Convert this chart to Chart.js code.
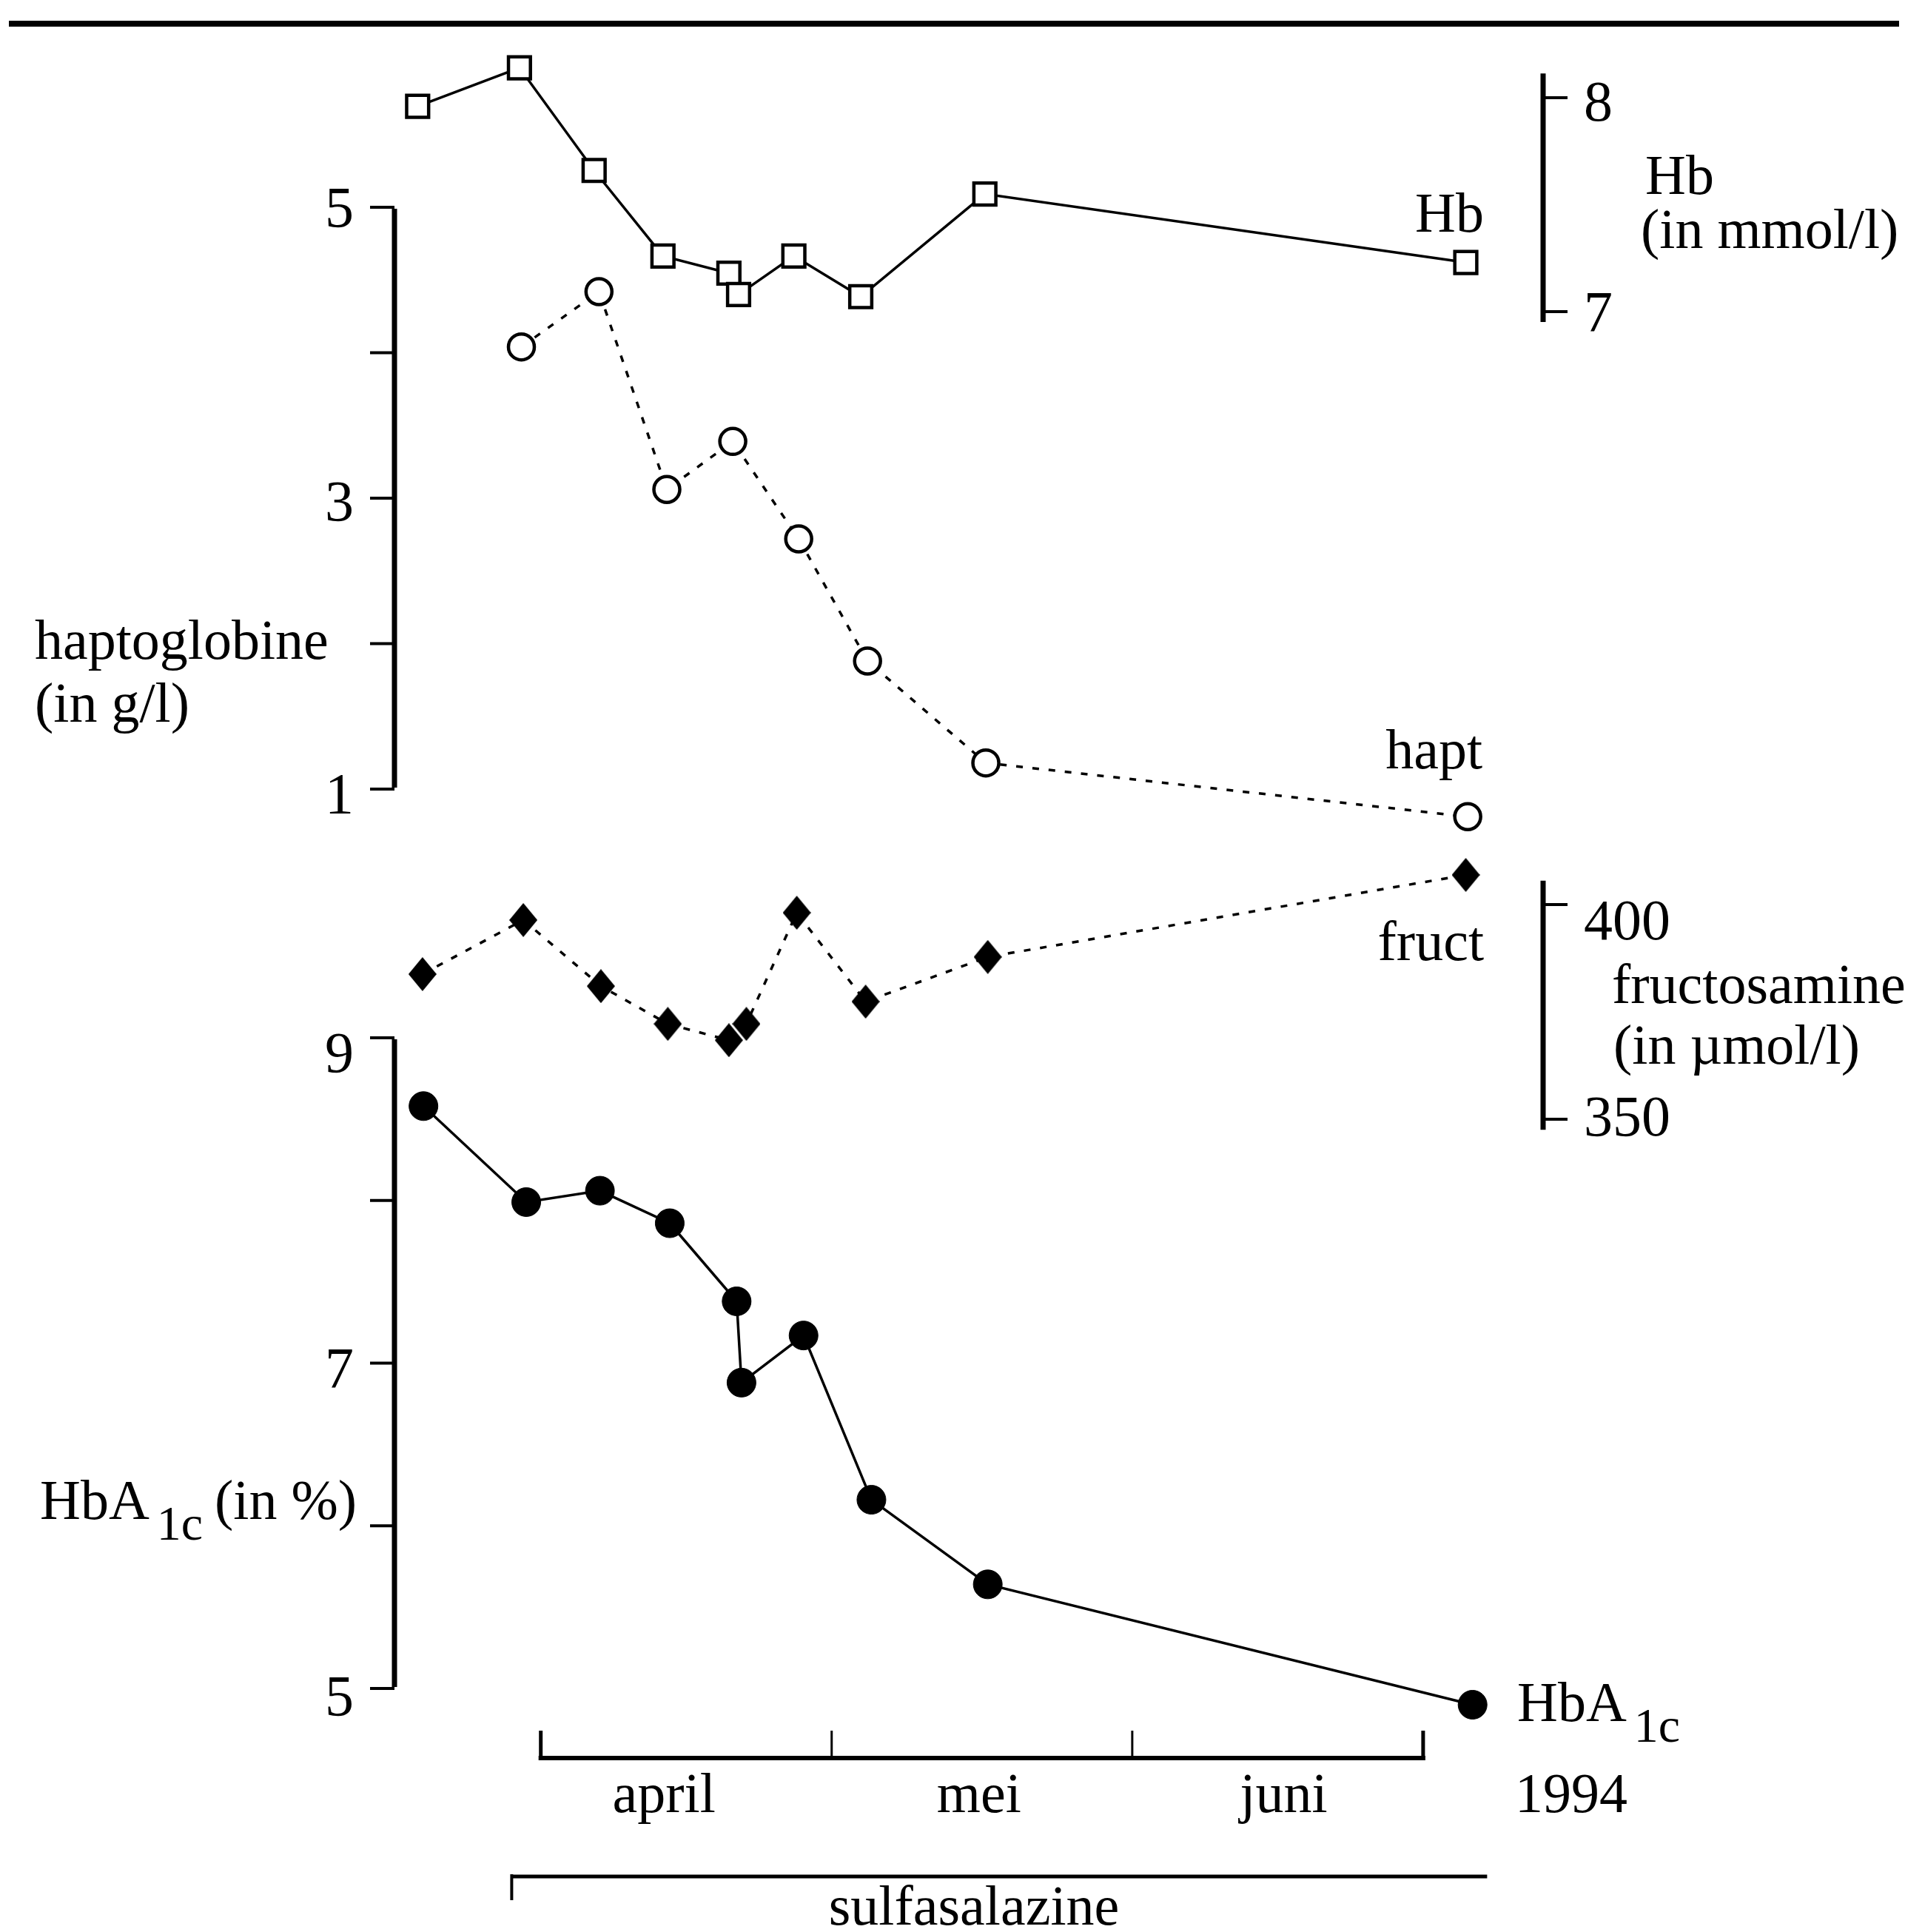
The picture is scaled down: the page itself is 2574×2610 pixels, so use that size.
<!DOCTYPE html>
<html>
<head>
<meta charset="utf-8">
<script src="https://cdn.jsdelivr.net/npm/chart.js@4.4.1/dist/chart.umd.min.js"></script>
<style>
  html, body { margin: 0; padding: 0; background: #fff; }
  canvas { display: block; }
</style>
</head>
<body>
<canvas id="myChart" width="2574" height="2610"></canvas>
<script>
// time axis: days counted from 1 april 1994
const hbDays = [-12.7, -2.2, 5.5, 12.6, 19.4, 20.4, 26.1, 33.0, 45.8, 95.4];
const hbValues = [7.96, 8.14, 7.66, 7.26, 7.18, 7.08, 7.26, 7.07, 7.55, 7.23];

const haptDays = [-2.0, 6.0, 13.0, 19.8, 26.6, 33.7, 45.9, 95.6];
const haptValues = [4.04, 4.42, 3.06, 3.39, 2.72, 1.88, 1.18, 0.81];

const fructDays = [-12.2, -1.8, 6.2, 13.1, 19.4, 21.2, 26.4, 33.5, 46.1, 95.4];
const fructValues = [383.8, 396.4, 381.0, 372.2, 368.4, 372.2, 398.1, 377.4, 387.8, 406.9];

const hbaDays = [-12.1, -1.5, 6.1, 13.3, 20.2, 20.7, 27.1, 34.1, 46.1, 96.1];
const hbaValues = [8.58, 7.99, 8.06, 7.86, 7.38, 6.88, 7.17, 6.16, 5.64, 4.9];

// tick labels
const haptTicks = [1, 2, 3, 4, 5];
const haptTickLabels = ["1", "", "3", "", "5"];
const hbaTicks = [5, 6, 7, 8, 9];
const hbaTickLabels = ["5", "", "7", "", "9"];
const hbTicks = [7, 8];
const hbTickLabels = ["7", "8"];
const fructTicks = [350, 400];
const fructTickLabels = ["350", "400"];
const monthTicks = [0, 30, 61, 91];
const monthLabels = ["april", "mei", "juni"];
const yearLabel = "1994";
const therapyDays = [-3, 97.6];
const therapyLabel = "sulfasalazine";

// ---- layout (pixels) ----
const W = 2574, H = 2610;
const FONT = "'Liberation Serif', 'DejaVu Serif', serif";

function yRange(v1, p1, v2, p2) {
  const s = (p2 - p1) / (v1 - v2);
  return { min: v1 - (H - p1) / s, max: v1 + p1 / s };
}
function xRange(d1, p1, d2, p2) {
  const s = (p2 - p1) / (d2 - d1);
  const min = d1 - p1 / s;
  return { min: min, max: min + W / s };
}

const xR = xRange(0, 730.7, 91, 1922.9);
const hbR = yRange(8, 132, 7, 421);
const haptR = yRange(5, 280, 1, 1066);
const fructR = yRange(400, 1222, 350, 1512);
const hbaR = yRange(9, 1402, 5, 2281);

function pts(xs, ys) {
  return xs.map((x, i) => ({ x: x, y: ys[i] }));
}

// tall filled diamond marker
function diamond(w, h) {
  const c = document.createElement("canvas");
  c.width = w;
  c.height = h;
  const g = c.getContext("2d");
  g.fillStyle = "#000";
  g.beginPath();
  g.moveTo(w / 2, 0);
  g.lineTo(w, h / 2);
  g.lineTo(w / 2, h);
  g.lineTo(0, h / 2);
  g.closePath();
  g.fill();
  return c;
}

function seg(ctx, x1, y1, x2, y2, w) {
  ctx.lineWidth = w;
  ctx.beginPath();
  ctx.moveTo(x1, y1);
  ctx.lineTo(x2, y2);
  ctx.stroke();
}

function txt(ctx, s, x, y, align, size) {
  ctx.font = (size || 76) + "px " + FONT;
  ctx.textAlign = align || "left";
  ctx.textBaseline = "alphabetic";
  ctx.fillText(s, x, y);
  return ctx.measureText(s).width;
}

// HbA + subscript 1c
function hbaText(ctx, x, y) {
  let w = txt(ctx, "HbA", x, y, "left", 76);
  let w2 = txt(ctx, "1c", x + w + 10, y + 28, "left", 66);
  return x + w + 10 + w2;
}

function vAxis(ctx, scale, x, from, to, ticks, labels, dir, dy) {
  seg(ctx, x, scale.getPixelForValue(from) - 2, x, scale.getPixelForValue(to) + 2, 7);
  ticks.forEach((t, i) => {
    const y = scale.getPixelForValue(t);
    seg(ctx, x, y, x + dir * 33, y, 4);
    if (labels[i]) {
      txt(ctx, labels[i], x + dir * 55, y + (dy[i] || 28), dir < 0 ? "right" : "left", 78);
    }
  });
}

const decor = {
  id: "decor",
  afterDatasetsDraw(chart) {
    const ctx = chart.ctx;
    const sx = chart.scales.x;
    const sHb = chart.scales.yHb;
    const sHapt = chart.scales.yHapt;
    const sFruct = chart.scales.yFruct;
    const sHba = chart.scales.yHba;
    ctx.save();
    ctx.strokeStyle = "#000";
    ctx.fillStyle = "#000";
    ctx.lineCap = "butt";

    // top rule
    seg(ctx, 12, 32, 2566, 32, 8);

    // left axes
    vAxis(ctx, sHapt, 533, 1, 5, haptTicks, haptTickLabels, -1, [32, 0, 30, 0, 26]);
    vAxis(ctx, sHba, 533, 5, 9, hbaTicks, hbaTickLabels, -1, [36, 0, 32, 0, 46]);
    // right axes
    vAxis(ctx, sHb, 2085, 6.945, 8.12, hbTicks, hbTickLabels, 1, [26, 31]);
    vAxis(ctx, sFruct, 2085, 347.2, 405.9, fructTicks, fructTickLabels, 1, [22, 47]);

    // time axis bracket
    const xa = sx.getPixelForValue(monthTicks[0]);
    const xb = sx.getPixelForValue(monthTicks[monthTicks.length - 1]);
    seg(ctx, xa - 3, 2375, xb + 3, 2375, 6);
    monthTicks.forEach((d, i) => {
      const x = sx.getPixelForValue(d);
      seg(ctx, x, 2375, x, 2338, i === 0 || i === monthTicks.length - 1 ? 5 : 3);
    });
    monthLabels.forEach((m, i) => {
      const x = (sx.getPixelForValue(monthTicks[i]) + sx.getPixelForValue(monthTicks[i + 1])) / 2;
      txt(ctx, m, x + [-30, -4, 8][i], 2448, "center", 76);
    });
    txt(ctx, yearLabel, 2047, 2448, "left", 76);

    // therapy bracket
    const ta = sx.getPixelForValue(therapyDays[0]);
    const tb = sx.getPixelForValue(therapyDays[1]);
    seg(ctx, ta, 2535, tb, 2535, 5);
    seg(ctx, ta, 2532, ta, 2567, 4);
    txt(ctx, therapyLabel, 1316, 2600, "center", 76);

    // series labels
    txt(ctx, "Hb", 2005, 313, "right", 76);
    txt(ctx, "hapt", 2003, 1038, "right", 76);
    txt(ctx, "fruct", 2005, 1297, "right", 76);
    hbaText(ctx, 2050, 2325);

    // axis titles
    txt(ctx, "Hb", 2223, 262, "left", 76);
    txt(ctx, "(in mmol/l)", 2217, 335, "left", 76);
    txt(ctx, "haptoglobine", 47, 890, "left", 76);
    txt(ctx, "(in g/l)", 47, 975, "left", 76);
    txt(ctx, "fructosamine", 2178, 1355, "left", 76);
    txt(ctx, "(in \u00b5mol/l)", 2180, 1437, "left", 76);
    const end = hbaText(ctx, 54, 2052);
    txt(ctx, "(in %)", end + 16, 2052, "left", 76);

    ctx.restore();
  }
};

const ctx = document.getElementById("myChart");

new Chart(ctx, {
  type: "line",
  data: {
    datasets: [
      {
        label: "Hb",
        data: pts(hbDays, hbValues),
        yAxisID: "yHb",
        borderColor: "#000",
        borderWidth: 3.5,
        pointStyle: "rect",
        pointRadius: 21,
        pointBorderWidth: 4.5,
        pointBackgroundColor: "#fff",
        pointBorderColor: "#000",
      },
      {
        label: "hapt",
        data: pts(haptDays, haptValues),
        yAxisID: "yHapt",
        borderColor: "#000",
        borderWidth: 3.5,
        borderDash: [9, 13],
        pointStyle: "circle",
        pointRadius: 17.5,
        pointBorderWidth: 4.5,
        pointBackgroundColor: "#fff",
        pointBorderColor: "#000",
      },
      {
        label: "fruct",
        data: pts(fructDays, fructValues),
        yAxisID: "yFruct",
        borderColor: "#000",
        borderWidth: 3.5,
        borderDash: [9, 13],
        pointStyle: diamond(38, 46),
        pointRadius: 22,
        pointBackgroundColor: "#000",
        pointBorderColor: "#000",
      },
      {
        label: "HbA1c",
        data: pts(hbaDays, hbaValues),
        yAxisID: "yHba",
        borderColor: "#000",
        borderWidth: 3.5,
        pointStyle: "circle",
        pointRadius: 19.5,
        pointBorderWidth: 1,
        pointBackgroundColor: "#000",
        pointBorderColor: "#000",
      },
    ],
  },
  options: {
    responsive: false,
    animation: false,
    devicePixelRatio: 1,
    layout: { autoPadding: false, padding: 0 },
    plugins: { legend: { display: false }, tooltip: { enabled: false } },
    elements: { line: { tension: 0, fill: false } },
    scales: {
      x: { type: "linear", display: false, min: xR.min, max: xR.max },
      yHb: { axis: "y", type: "linear", display: false, min: hbR.min, max: hbR.max },
      yHapt: { axis: "y", type: "linear", display: false, min: haptR.min, max: haptR.max },
      yFruct: { axis: "y", type: "linear", display: false, min: fructR.min, max: fructR.max },
      yHba: { axis: "y", type: "linear", display: false, min: hbaR.min, max: hbaR.max },
    },
  },
  plugins: [decor],
});
</script>
</body>
</html>
